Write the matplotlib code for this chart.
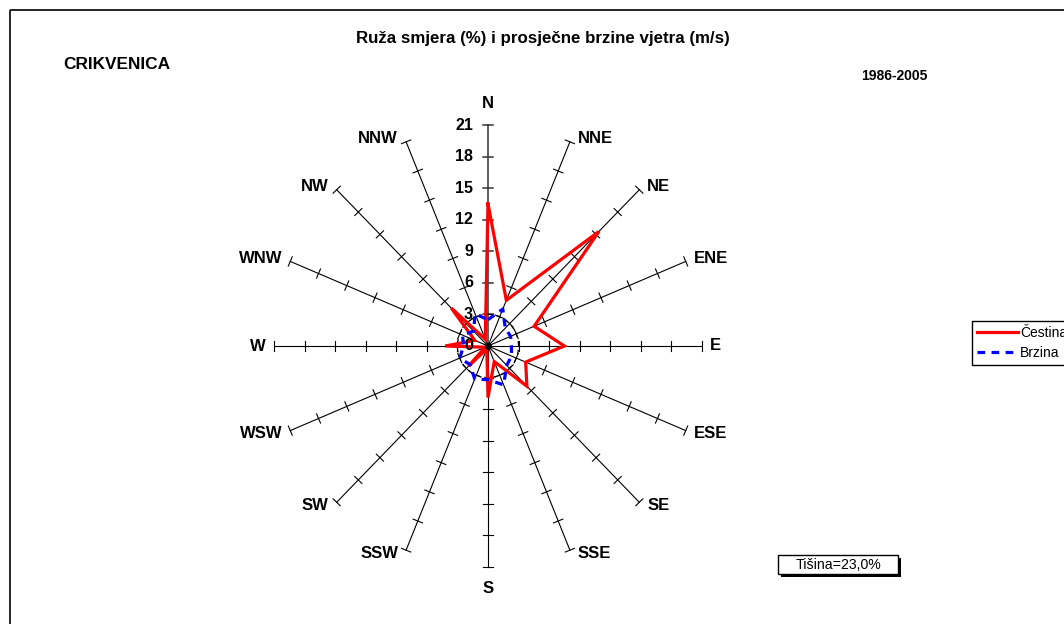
import numpy as np
import matplotlib
matplotlib.use('Agg')
import matplotlib.pyplot as plt
from matplotlib.patches import Rectangle

plt.rcParams['font.family'] = ['Liberation Sans', 'DejaVu Sans']

# ---------------- data ----------------
directions = ['N', 'NNE', 'NE', 'ENE', 'E', 'ESE', 'SE', 'SSE',
              'S', 'SSW', 'SW', 'WSW', 'W', 'WNW', 'NW', 'NNW']
cestina = [13.5, 4.7, 15.4, 4.9, 7.5, 4.0, 5.4, 1.6,
           4.9, 0.3, 2.7, 0.3, 4.2, 1.4, 5.1, 0.7]
brzina = [2.5, 3.8, 2.4, 2.4, 2.3, 2.5, 2.6, 4.0,
          3.2, 3.4, 2.5, 3.0, 2.4, 2.7, 2.0, 3.3]
axis_ticks = [0, 3, 6, 9, 12, 15, 18, 21]
ref_circle = 3
series_names = ['Čestina', 'Brzina']
title = 'Ruža smjera (%) i prosječne brzine vjetra (m/s)'
station = 'CRIKVENICA'
period = '1986-2005'
calm_text = 'Tišina=23,0%'

# ---------------- figure ----------------
W, H = 1064, 624
fig = plt.figure(figsize=(W / 100, H / 100), dpi=100)

cx, cy = 488, 346          # centre of the rose in pixels (from top-left)
rmax = axis_ticks[-1]
kx, ky = 214 / rmax, 221 / rmax   # pixels per unit

ax = fig.add_axes([0, 0, 1, 1])
ax.set_xlim(-cx / kx, (W - cx) / kx)
ax.set_ylim(-(H - cy) / ky, cy / ky)
ax.axis('off')

# overlay axes in pixel coordinates for decorations
ov = fig.add_axes([0, 0, 1, 1], zorder=-1)
ov.set_xlim(0, W)
ov.set_ylim(H, 0)
ov.axis('off')

theta = np.deg2rad(np.arange(len(directions)) * 360 / len(directions))
sx, sy = np.sin(theta), np.cos(theta)

# spokes + ticks
for i, (s, c) in enumerate(zip(sx, sy)):
    lw = 1.1 if i == 0 else 0.8
    col = '#333333' if i == 0 else 'black'
    ax.plot([0, rmax * s], [0, rmax * c], color=col, lw=lw, zorder=1)
    px, py = s * kx, c * ky
    n = np.hypot(px, py)
    ux, uy = -py / n, px / n
    half = 5.0
    for t in axis_ticks[1:]:
        x0, y0 = t * s, t * c
        ax.plot([x0 - half * ux / kx, x0 + half * ux / kx],
                [y0 - half * uy / ky, y0 + half * uy / ky],
                color=col, lw=lw, zorder=1)

# reference dashed circle
phi = np.linspace(0, 2 * np.pi, 200)
ax.plot(ref_circle * np.sin(phi), ref_circle * np.cos(phi), color='black',
        lw=0.9, linestyle=(0, (4, 3)), zorder=2)

# series
cv = np.append(cestina, cestina[0])
bv = np.append(brzina, brzina[0])
sxc = np.append(sx, sx[0])
syc = np.append(sy, sy[0])
l1, = ax.plot(cv * sxc, cv * syc, color='#ff0000', lw=2.3, zorder=3,
              solid_joinstyle='miter')
l2, = ax.plot(bv * sxc, bv * syc, color='#0000ff', lw=2.3, zorder=4,
              linestyle=(0, (2.4, 2.0)))

ax.plot([0], [0], 'o', color='black', ms=4, zorder=5)

# value labels along north axis
for t in axis_ticks:
    ax.annotate(str(t), (0, t), xytext=(-15, 0), textcoords='offset pixels',
                ha='right', va='center', fontsize=11.5, fontweight='bold',
                zorder=6)

# direction labels
for name, s, c in zip(directions, sx, sy):
    if abs(s) < 0.1:
        off = (0, 14) if c > 0 else (0, -14)
        ha, va = 'center', ('bottom' if c > 0 else 'top')
    else:
        dy = 0 if abs(c) < 0.1 else 3 * np.sign(c)
        off = (8 if s > 0 else -8, dy)
        ha = 'left' if s > 0 else 'right'
        va = 'center'
    ax.annotate(name, (rmax * s, rmax * c), xytext=off,
                textcoords='offset pixels', ha=ha, va=va,
                fontsize=12, fontweight='bold', zorder=6)

# frame
ov.add_patch(Rectangle((10, 10), W, H, fill=False, edgecolor='black', lw=1.2))

# texts
ov.text(543, 43, title, ha='center', va='baseline', fontsize=12.2, fontweight='bold')
ov.text(63, 69, station, ha='left', va='baseline', fontsize=12.4, fontweight='bold')
ov.text(928, 80, period, ha='right', va='baseline', fontsize=10, fontweight='bold')

# calm box with shadow
ov.add_patch(Rectangle((781, 558), 120, 19, facecolor='black', edgecolor='black', lw=0))
ov.add_patch(Rectangle((778, 555), 120, 19, facecolor='white', edgecolor='black', lw=1))
ov.text(838, 565, calm_text, ha='center', va='center', fontsize=10.2)

# legend
leg = fig.legend([l1, l2], series_names, loc='upper left',
                 bbox_to_anchor=(972 / W, 1 - 321 / H), frameon=True,
                 fancybox=False, edgecolor='black', framealpha=1,
                 fontsize=10, handlelength=2.95, handletextpad=0.15,
                 borderpad=0.35, labelspacing=0.45, borderaxespad=0)
leg.get_frame().set_linewidth(1.0)

fig.savefig('out.png', dpi=100)
